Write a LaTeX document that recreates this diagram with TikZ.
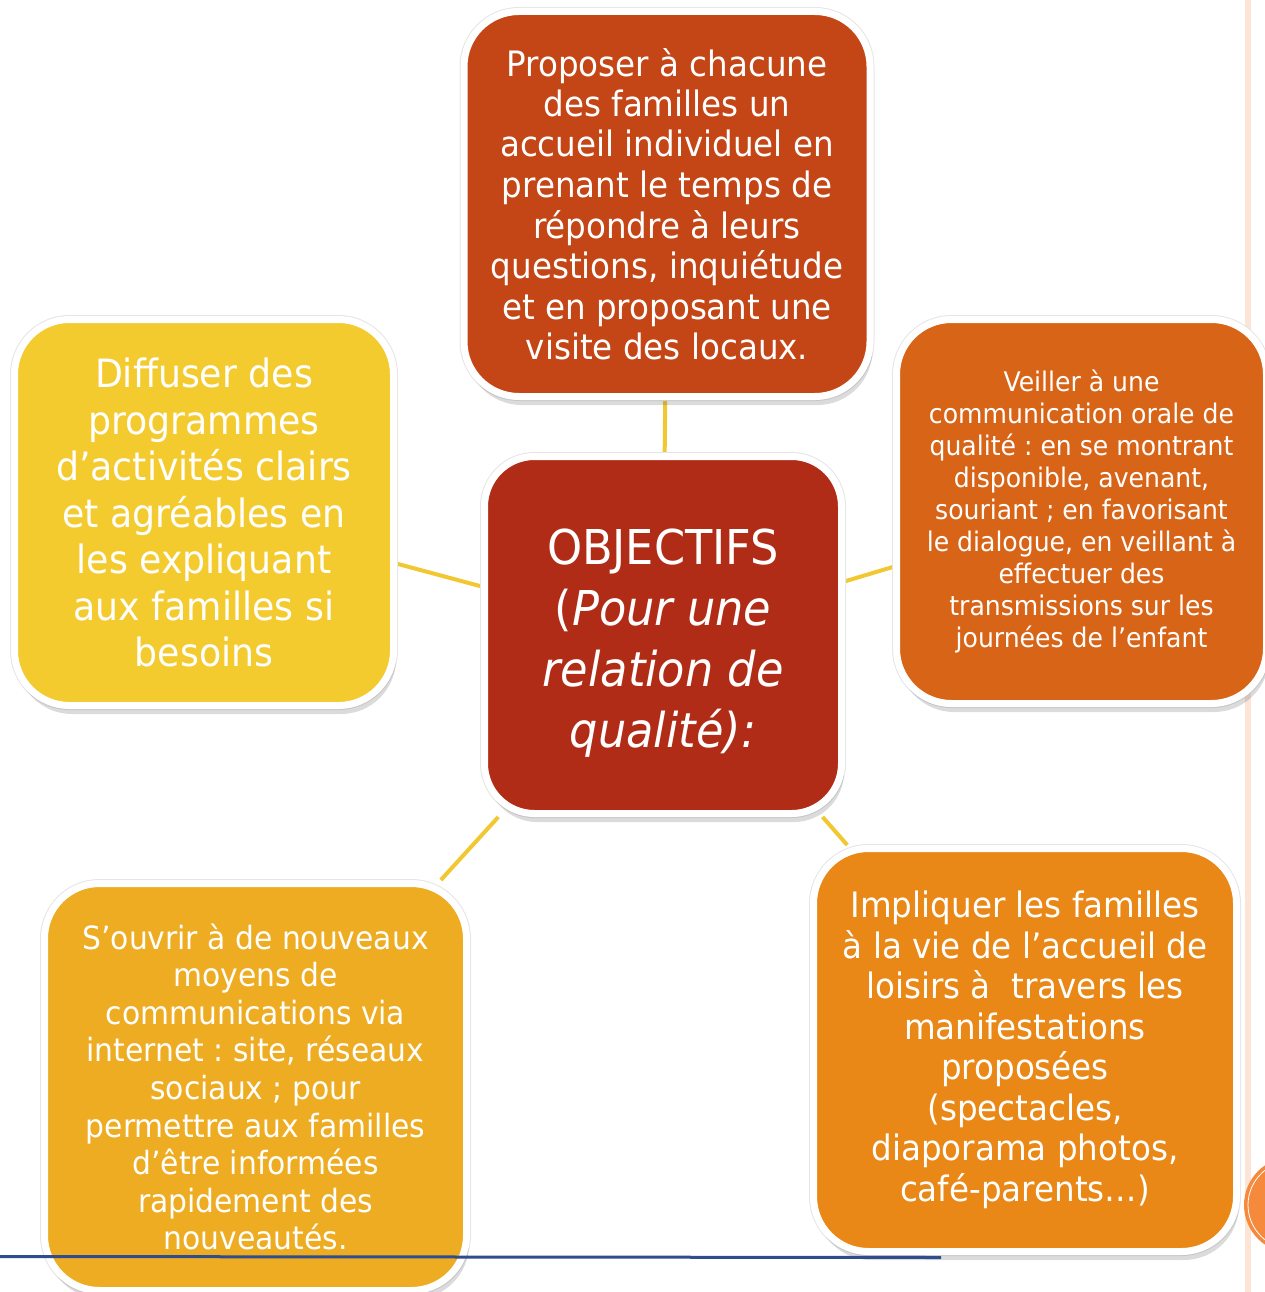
\documentclass[tikz,border=0pt]{standalone}
\usepackage{fontspec}
\setmainfont{DejaVu Sans}[FakeStretch=0.93]
\frenchspacing
\usetikzlibrary{shadows,backgrounds}
\definecolor{ctop}{RGB}{196,70,22}
\definecolor{ccenter}{RGB}{177,44,23}
\definecolor{cleft}{RGB}{244,203,47}
\definecolor{cright}{RGB}{216,100,24}
\definecolor{cbr}{RGB}{233,136,22}
\definecolor{cbl}{RGB}{238,172,34}
\definecolor{linkyellow}{RGB}{242,200,50}
\definecolor{paleline}{RGB}{252,228,214}
\definecolor{circfill}{RGB}{245,138,60}
\definecolor{blueline}{RGB}{46,77,140}
\tikzset{
  box/.style={rectangle, rounded corners=55pt, draw=white, line width=7pt, inner sep=0pt,
    align=center, text=white,
    preaction={draw=black!10, line width=9pt},
    drop shadow={shadow xshift=2.5pt, shadow yshift=-8.5pt, opacity=0.2, fill=black!70}},
  link/.style={draw=linkyellow, line width=4pt},
}
\begin{document}
\begin{tikzpicture}[x=1pt,y=-1pt]
\useasboundingbox (0,0) rectangle (1265,1292);

\node[box, fill=ctop, minimum width=406pt, minimum height=385pt,
  font=\fontsize{35}{40.5}\selectfont] (top) at (667,204)
  {Proposer à chacune\\des familles un\\accueil individuel en\\prenant le temps de\\répondre à leurs\\questions, inquiétude\\et en proposant une\\visite des locaux.};

\node[box, fill=ccenter, minimum width=357pt, minimum height=357pt, rounded corners=50pt,
  font=\fontsize{48}{61}\selectfont] (center) at (663,635)
  {\rule{0pt}{51pt}OBJECTIFS\\(\textit{Pour une}\\\textit{relation de}\\\textit{qualité):}};

\node[box, fill=cleft, minimum width=379pt, minimum height=386pt,
  font=\fontsize{39}{46.5}\selectfont] (left) at (204,512.5)
  {Diffuser des\\programmes\\d’activités clairs\\et agréables en\\les expliquant\\aux familles si\\besoins};

\node[box, fill=cright, minimum width=370pt, minimum height=384pt,
  font=\fontsize{27}{32}\selectfont] (right) at (1081.5,511.5)
  {Veiller à une\\communication orale de\\qualité : en se montrant\\disponible, avenant,\\souriant ; en favorisant\\le dialogue, en veillant à\\effectuer des\\transmissions sur les\\journées de l’enfant};

\node[box, fill=cbr, minimum width=423pt, minimum height=403pt,
  font=\fontsize{35}{40.5}\selectfont] (bright) at (1025,1050)
  {Impliquer les familles\\à la vie de l’accueil de\\loisirs à~ travers les\\manifestations\\proposées\\(spectacles,\\diaporama photos,\\café-parents…)};

\node[box, fill=cbl, minimum width=422pt, minimum height=407pt,
  font=\fontsize{32}{37.6}\selectfont] (bleft) at (255.5,1087)
  {S’ouvrir à de nouveaux\\moyens de\\communications via\\internet : site, réseaux\\sociaux ; pour\\permettre aux familles\\d’être informées\\rapidement des\\nouveautés.};

\begin{scope}[on background layer]
  \coordinate (pl1) at (1248,0);
  \coordinate (pl2) at (1248,1292);
  \draw[paleline, line width=6pt] (pl1) -- (pl2);
  \draw[link] (center) -- (top);
  \draw[link] (center) -- (left);
  \draw[link] (center) -- (right);
  \draw[link] (center) -- (bleft);
  \draw[link] (center) -- (bright);
\end{scope}

\node[circle, fill=circfill, minimum size=96pt, inner sep=0pt] (circ) at (1292,1205) {};
\draw[white, line width=0.8pt] (circ.center) circle[radius=44];

\coordinate (b1) at (0,1256.5);
\coordinate (b2) at (941,1257.5);
\draw[blueline, line width=3pt] (b1) -- (b2);
\end{tikzpicture}
\end{document}
